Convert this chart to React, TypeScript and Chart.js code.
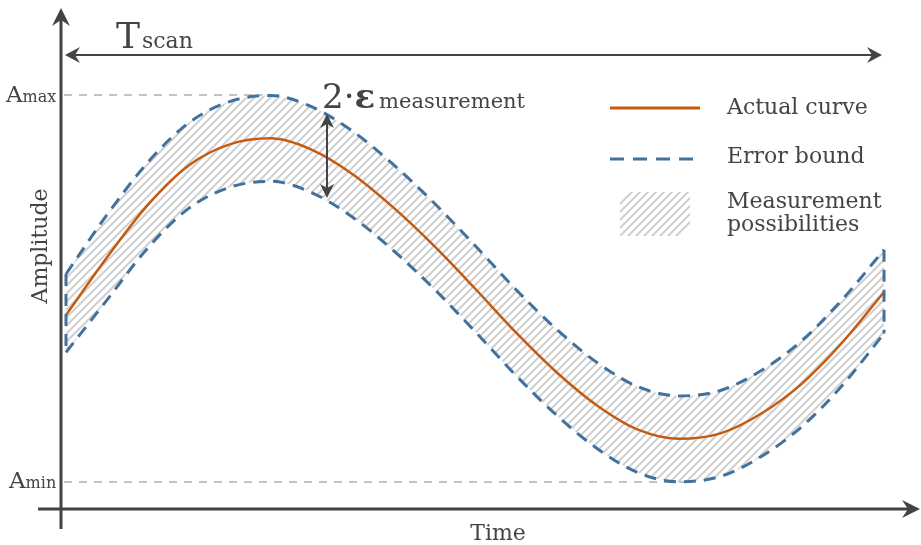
import React, { useEffect, useRef } from "react";
import { Chart, registerables } from "chart.js";
Chart.register(...registerables);

// ---- data (time in scan units, amplitude normalised so Amax = 1, Amin = -1)
const TIME = [0, 0.5, 1, 1.5, 2, 2.5, 3, 3.5, 4, 4.5, 5, 5.5, 6, 6.5, 7, 7.5, 8, 8.5, 9, 9.5, 10];
const ACTUAL = [-0.137, 0.16, 0.432, 0.636, 0.745, 0.776, 0.718, 0.592, 0.419, 0.22, 0.0, -0.227, -0.434, -0.607, -0.731, -0.777, -0.749, -0.646, -0.49, -0.274, -0.018];
const UPPER = [0.075, 0.38, 0.652, 0.856, 0.966, 0.998, 0.94, 0.814, 0.641, 0.442, 0.222, -0.005, -0.212, -0.385, -0.509, -0.555, -0.527, -0.424, -0.268, -0.052, 0.2];
const LOWER = [-0.33, -0.06, 0.21, 0.414, 0.523, 0.554, 0.496, 0.37, 0.197, -0.002, -0.222, -0.449, -0.656, -0.829, -0.953, -0.999, -0.971, -0.868, -0.712, -0.496, -0.232];
const A_MAX = 1;
const A_MIN = -1;
const T_AT_AMAX = 2.4;
const T_AT_AMIN = 7.59;
const SERIES_LABELS = ["Actual curve", "Error bound", "Measurement", "possibilities"];
const AXIS_LABELS = { x: "Time", y: "Amplitude" };

const INK = "#444444";
const ORANGE = "#c55a11";
const BLUE = "#41719c";
const GREY_DASH = "#c3c3c3";
const HATCH = "#d0d0d0";
const FONT = "'DejaVu Serif', serif";

function arrowHead(ctx: CanvasRenderingContext2D, x: number, y: number, angle: number, len = 16, half = 8, notch = 5) {
  ctx.save();
  ctx.translate(x, y);
  ctx.rotate(angle);
  ctx.beginPath();
  ctx.moveTo(0, 0);
  ctx.lineTo(-len, -half);
  ctx.lineTo(-len + notch, 0);
  ctx.lineTo(-len, half);
  ctx.closePath();
  ctx.fill();
  ctx.restore();
}

function subText(ctx: CanvasRenderingContext2D, x: number, y: number, big: string, bigFont: string, small: string, smallFont: string, gap = 1) {
  ctx.font = bigFont;
  ctx.fillText(big, x, y);
  const w = ctx.measureText(big).width;
  ctx.font = smallFont;
  ctx.fillText(small, x + w + gap, y);
}

function makePattern(ctx: CanvasRenderingContext2D) {
  const s = 8;
  const tile = document.createElement("canvas");
  tile.width = s;
  tile.height = s;
  const t = tile.getContext("2d")!;
  t.strokeStyle = HATCH;
  t.lineWidth = 2;
  t.beginPath();
  t.moveTo(-2, s + 2);
  t.lineTo(s + 2, -2);
  t.moveTo(-2, 2);
  t.lineTo(2, -2);
  t.moveTo(s - 2, s + 2);
  t.lineTo(s + 2, s - 2);
  t.stroke();
  return ctx.createPattern(tile, "repeat")!;
}

export default function App() {
  const ref = useRef<HTMLCanvasElement | null>(null);
  useEffect(() => {
    const canvas = ref.current!;
    const ctx0 = canvas.getContext("2d")!;
    const pattern = makePattern(ctx0);

    const decor = {
      id: "decor",
      beforeDatasetsDraw(chart: any) {
        const { ctx } = chart;
        const xs = chart.scales.x;
        const ys = chart.scales.y;
        ctx.save();
        ctx.strokeStyle = GREY_DASH;
        ctx.lineWidth = 2;
        ctx.setLineDash([8, 7]);
        const x0 = 64;
        ctx.beginPath();
        ctx.moveTo(x0, ys.getPixelForValue(A_MAX));
        ctx.lineTo(xs.getPixelForValue(T_AT_AMAX), ys.getPixelForValue(A_MAX));
        ctx.moveTo(x0, ys.getPixelForValue(A_MIN));
        ctx.lineTo(xs.getPixelForValue(T_AT_AMIN), ys.getPixelForValue(A_MIN));
        ctx.stroke();
        ctx.restore();
      },
      afterDatasetsDraw(chart: any) {
        const { ctx } = chart;
        const xs = chart.scales.x;
        const ys = chart.scales.y;
        ctx.save();
        // side edges of the error band
        ctx.strokeStyle = BLUE;
        ctx.lineWidth = 3;
        ctx.setLineDash([12, 8]);
        const n = TIME.length - 1;
        ctx.beginPath();
        ctx.moveTo(xs.getPixelForValue(TIME[0]), ys.getPixelForValue(UPPER[0]));
        ctx.lineTo(xs.getPixelForValue(TIME[0]), ys.getPixelForValue(LOWER[0]));
        ctx.moveTo(xs.getPixelForValue(TIME[n]), ys.getPixelForValue(UPPER[n]));
        ctx.lineTo(xs.getPixelForValue(TIME[n]), ys.getPixelForValue(LOWER[n]));
        ctx.stroke();
        ctx.setLineDash([]);

        // axes
        ctx.strokeStyle = INK;
        ctx.fillStyle = INK;
        ctx.lineWidth = 3;
        const axX = 61;
        const axY = 509;
        ctx.beginPath();
        ctx.moveTo(axX, 529);
        ctx.lineTo(axX, 20);
        ctx.moveTo(38, axY);
        ctx.lineTo(908, axY);
        ctx.stroke();
        arrowHead(ctx, axX, 8, -Math.PI / 2, 18, 9, 6);
        arrowHead(ctx, 920, axY, 0, 18, 9, 6);

        // Tscan arrow
        const tY = 55;
        const tx0 = xs.getPixelForValue(TIME[0]) - 1;
        const tx1 = xs.getPixelForValue(TIME[n]) - 2;
        ctx.lineWidth = 2;
        ctx.beginPath();
        ctx.moveTo(tx0 + 8, tY);
        ctx.lineTo(tx1 - 8, tY);
        ctx.stroke();
        arrowHead(ctx, tx0, tY, Math.PI, 15, 8, 5);
        arrowHead(ctx, tx1, tY, 0, 15, 8, 5);

        // 2·eps arrow
        const ex = 327;
        const ey0 = 114;
        const ey1 = 198;
        ctx.beginPath();
        ctx.moveTo(ex, ey0 + 8);
        ctx.lineTo(ex, ey1 - 8);
        ctx.stroke();
        arrowHead(ctx, ex, ey0, -Math.PI / 2, 14, 7, 4);
        arrowHead(ctx, ex, ey1, Math.PI / 2, 14, 7, 4);

        // texts
        ctx.fillStyle = INK;
        ctx.textBaseline = "alphabetic";
        ctx.textAlign = "left";
        subText(ctx, 116, 48, "T", `36px ${FONT}`, "scan", `22px ${FONT}`, 2);
        subText(ctx, 6, 102, "A", `23px ${FONT}`, "max", `16px ${FONT}`, 0);
        subText(ctx, 9, 488, "A", `23px ${FONT}`, "min", `16px ${FONT}`, 0);

        ctx.font = `34px ${FONT}`;
        ctx.fillText("2·", 322, 108);
        let w = ctx.measureText("2·").width;
        ctx.font = `bold 34px ${FONT}`;
        ctx.fillText("ε", 322 + w, 108);
        w += ctx.measureText("ε").width;
        ctx.font = `21px ${FONT}`;
        ctx.fillText("measurement", 322 + w + 4, 108);

        ctx.font = `22px ${FONT}`;
        ctx.textAlign = "center";
        ctx.fillText(AXIS_LABELS.x, 498, 540);
        ctx.save();
        ctx.translate(47, 246);
        ctx.rotate(-Math.PI / 2);
        ctx.fillText(AXIS_LABELS.y, 0, 0);
        ctx.restore();

        // legend
        ctx.textAlign = "left";
        ctx.strokeStyle = ORANGE;
        ctx.lineWidth = 3;
        ctx.beginPath();
        ctx.moveTo(610, 108);
        ctx.lineTo(700, 108);
        ctx.stroke();
        ctx.strokeStyle = BLUE;
        ctx.setLineDash([14, 9]);
        ctx.beginPath();
        ctx.moveTo(610, 159);
        ctx.lineTo(694, 159);
        ctx.stroke();
        ctx.setLineDash([]);
        ctx.fillStyle = pattern;
        ctx.beginPath();
        ctx.moveTo(628, 192);
        ctx.lineTo(690, 192);
        ctx.lineTo(690, 228);
        ctx.lineTo(682, 236);
        ctx.lineTo(620, 236);
        ctx.lineTo(620, 200);
        ctx.closePath();
        ctx.fill();
        ctx.fillStyle = INK;
        ctx.font = `22px ${FONT}`;
        ctx.fillText(SERIES_LABELS[0], 727, 114);
        ctx.fillText(SERIES_LABELS[1], 727, 163);
        ctx.fillText(SERIES_LABELS[2], 727, 208);
        ctx.fillText(SERIES_LABELS[3], 727, 231);
        ctx.restore();
      },
    };

    const pts = (arr: number[]) => TIME.map((t, i) => ({ x: t, y: arr[i] }));
    const line = { pointRadius: 0, cubicInterpolationMode: "monotone" as const };
    const chart = new Chart(canvas, {
      type: "line",
      data: {
        datasets: [
          { label: SERIES_LABELS[0], data: pts(ACTUAL), borderColor: ORANGE, borderWidth: 2.5, fill: false, ...line },
          { label: SERIES_LABELS[1], data: pts(UPPER), borderColor: BLUE, borderWidth: 3, borderDash: [12, 8], fill: "+1", backgroundColor: pattern, ...line },
          { label: "lower", data: pts(LOWER), borderColor: BLUE, borderWidth: 3, borderDash: [12, 8], fill: false, ...line },
        ],
      },
      options: {
        animation: false,
        responsive: false,
        devicePixelRatio: 1,
        events: [],
        layout: { padding: 0 },
        plugins: {
          legend: { display: false },
          tooltip: { enabled: false },
          filler: { drawTime: "beforeDatasetsDraw" },
        } as any,
        scales: {
          x: { type: "linear", min: -0.8068, max: 10.452, display: false },
          y: { type: "linear", min: -1.3256, max: 1.491, display: false },
        },
      },
      plugins: [decor],
    });
    return () => chart.destroy();
  }, []);

  return (
    <div style={{ position: "fixed", left: 0, top: 0, width: 921, height: 545, background: "#fff" }}>
      <canvas ref={ref} width={921} height={545} style={{ display: "block" }} />
    </div>
  );
}
